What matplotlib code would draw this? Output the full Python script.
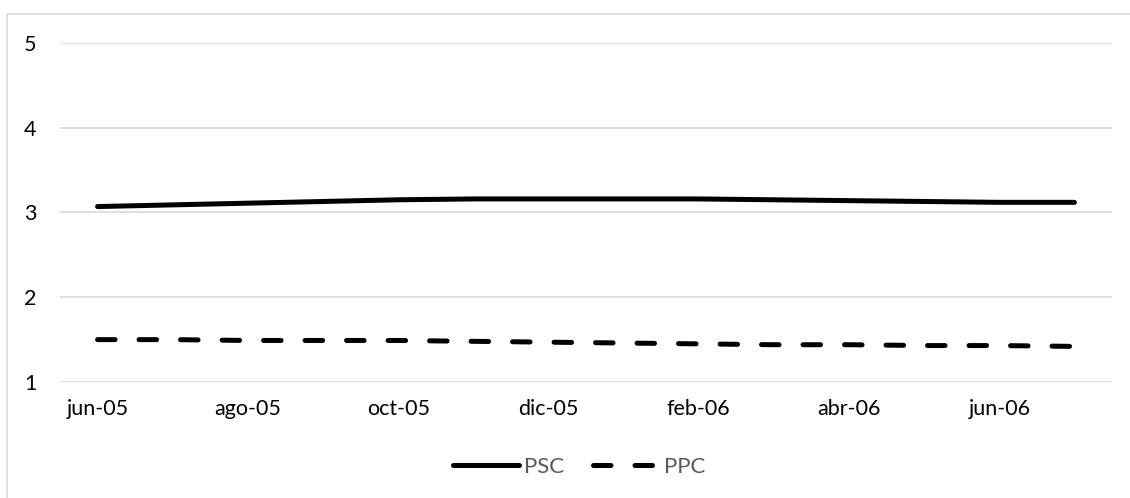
import matplotlib.pyplot as plt
from matplotlib.patches import Rectangle

plt.rcParams['font.family'] = ['Lato', 'DejaVu Sans']

# Monthly data, jun-05 .. jul-06
months = ['jun-05', 'jul-05', 'ago-05', 'sep-05', 'oct-05', 'nov-05', 'dic-05',
          'ene-06', 'feb-06', 'mar-06', 'abr-06', 'may-06', 'jun-06', 'jul-06']
psc = [3.07, 3.09, 3.11, 3.13, 3.15, 3.16, 3.16, 3.16, 3.16, 3.15, 3.14, 3.13, 3.12, 3.12]
ppc = [1.50, 1.50, 1.49, 1.49, 1.49, 1.48, 1.47, 1.46, 1.45, 1.44, 1.44, 1.43, 1.43, 1.42]

fig = plt.figure(figsize=(11.3, 4.98), dpi=100)
ax = fig.add_axes([60 / 1130, 116 / 498, 1052 / 1130, 339 / 498])

# light frame around the chart (as in the spreadsheet export)
fig.patches.append(Rectangle((7 / 1130, -0.1), 1.2, (484 / 498) + 0.1,
                             transform=fig.transFigure, fill=False,
                             edgecolor='#d9d9d9', lw=1.2))

x = list(range(len(months)))
ax.plot(x, psc, color='black', lw=3.6, solid_capstyle='round', label='PSC')
ax.plot(x, ppc, color='black', lw=3.6, dash_capstyle='round',
        dashes=(3.5, 4.8), label='PPC')

ax.set_xlim(-0.5, len(months) - 0.5)
ax.set_ylim(1, 5)
ax.set_yticks([1, 2, 3, 4, 5])
ax.set_xticks(x[::2])
ax.set_xticklabels(months[::2])
ax.grid(axis='y', color='#d9d9d9', lw=1.2)
ax.set_axisbelow(True)
for s in ax.spines.values():
    s.set_visible(False)
ax.tick_params(length=0, labelsize=15.5, colors='black')
ax.tick_params(axis='y', pad=17)
ax.tick_params(axis='x', pad=12)

leg = fig.legend(loc='center', bbox_to_anchor=(579 / 1130, 1 - 467 / 498),
                 ncol=2, frameon=False, fontsize=16, handlelength=3.0,
                 columnspacing=1.3, handletextpad=0.2)
for t in leg.get_texts():
    t.set_color('#595959')

fig.savefig('out.png', dpi=100)
